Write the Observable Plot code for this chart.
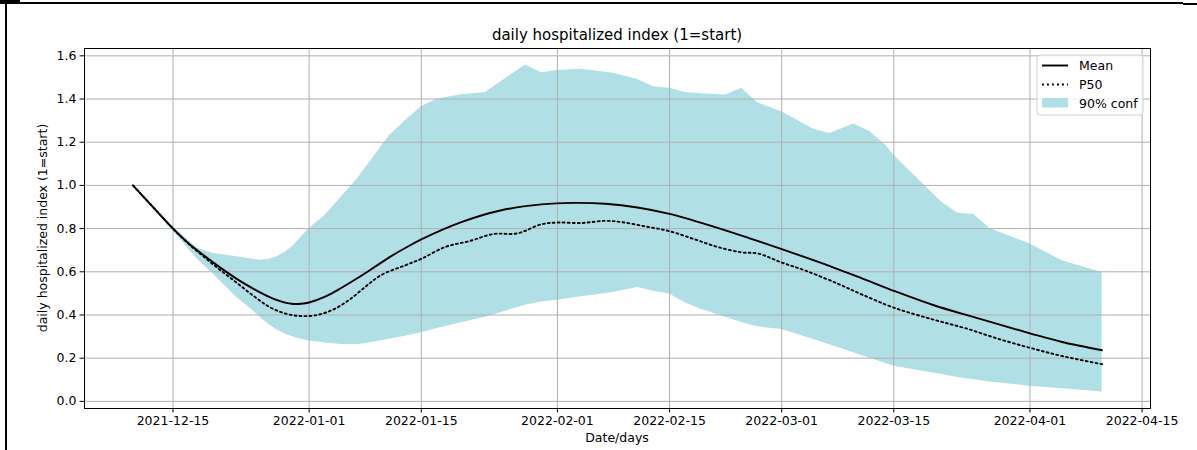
<!DOCTYPE html>
<html>
<head>
<meta charset="utf-8">
<script src="https://cdn.jsdelivr.net/npm/d3@7"></script>
<script src="https://cdn.jsdelivr.net/npm/@observablehq/plot@0.6"></script>
<style>
  html, body { margin: 0; padding: 0; background: white; }
  #wrap { position: relative; width: 1197px; height: 450px; overflow: hidden; background: white; }
  .bl { position: absolute; background: black; }
</style>
</head>
<body>
<div id="wrap">
  <div class="bl" style="left:0;top:0;width:20px;height:4px;"></div>
  <div class="bl" style="left:5px;top:2px;width:1178px;height:1.5px;"></div>
  <div class="bl" style="left:1183px;top:3px;width:14px;height:2px;"></div>
  <div class="bl" style="left:5px;top:0;width:2px;height:450px;"></div>
  <div id="chart" style="position:absolute;left:0;top:0;"></div>
</div>
<script>
// ---- data ----
const meanDates = ["2021-12-10","2021-12-11","2021-12-13","2021-12-15","2021-12-17","2021-12-19","2021-12-21","2021-12-23","2021-12-25","2021-12-27","2021-12-29","2021-12-30","2021-12-31","2022-01-01","2022-01-03","2022-01-05","2022-01-07","2022-01-09","2022-01-11","2022-01-13","2022-01-15","2022-01-20","2022-01-25","2022-01-30","2022-02-03","2022-02-07","2022-02-11","2022-02-15","2022-02-20","2022-02-25","2022-03-01","2022-03-06","2022-03-11","2022-03-15","2022-03-20","2022-03-25","2022-04-01","2022-04-05","2022-04-10"];
const meanValues = [1.00,0.96,0.88,0.80,0.73,0.672,0.617,0.566,0.522,0.484,0.457,0.451,0.452,0.458,0.485,0.525,0.57,0.618,0.667,0.71,0.75,0.83,0.885,0.912,0.919,0.915,0.898,0.868,0.815,0.755,0.705,0.64,0.57,0.512,0.445,0.39,0.315,0.275,0.237];

const p50Dates = ["2021-12-10","2021-12-11","2021-12-13","2021-12-15","2021-12-17","2021-12-19","2021-12-21","2021-12-23","2021-12-25","2021-12-27","2021-12-29","2021-12-31","2022-01-02","2022-01-04","2022-01-06","2022-01-08","2022-01-10","2022-01-13","2022-01-15","2022-01-18","2022-01-21","2022-01-24","2022-01-27","2022-01-30","2022-02-01","2022-02-04","2022-02-07","2022-02-09","2022-02-12","2022-02-15","2022-02-18","2022-02-21","2022-02-24","2022-02-26","2022-03-01","2022-03-04","2022-03-08","2022-03-11","2022-03-15","2022-03-20","2022-03-24","2022-03-28","2022-04-01","2022-04-05","2022-04-10"];
const p50Values = [1.00,0.96,0.88,0.80,0.728,0.665,0.605,0.548,0.49,0.438,0.407,0.395,0.40,0.425,0.47,0.53,0.585,0.63,0.66,0.715,0.742,0.775,0.778,0.82,0.828,0.826,0.836,0.83,0.81,0.788,0.752,0.715,0.69,0.685,0.643,0.605,0.545,0.495,0.434,0.378,0.338,0.29,0.248,0.21,0.172];

const bandDates = ["2021-12-10","2021-12-12","2021-12-15","2021-12-18","2021-12-20","2021-12-23","2021-12-25","2021-12-26","2021-12-27","2021-12-28","2021-12-29","2021-12-30","2021-12-31","2022-01-01","2022-01-03","2022-01-05","2022-01-07","2022-01-09","2022-01-11","2022-01-13","2022-01-15","2022-01-17","2022-01-20","2022-01-23","2022-01-28","2022-01-30","2022-02-01","2022-02-04","2022-02-08","2022-02-11","2022-02-13","2022-02-15","2022-02-17","2022-02-19","2022-02-22","2022-02-24","2022-02-26","2022-03-01","2022-03-05","2022-03-07","2022-03-10","2022-03-12","2022-03-14","2022-03-15","2022-03-21","2022-03-23","2022-03-25","2022-03-27","2022-04-01","2022-04-05","2022-04-10"];
const bandHigh = [1.00,0.91,0.81,0.71,0.685,0.67,0.658,0.653,0.658,0.67,0.69,0.72,0.76,0.80,0.862,0.945,1.03,1.129,1.23,1.30,1.364,1.40,1.42,1.43,1.558,1.522,1.532,1.538,1.519,1.49,1.457,1.45,1.43,1.425,1.419,1.45,1.383,1.341,1.26,1.24,1.284,1.25,1.186,1.14,0.922,0.871,0.865,0.80,0.729,0.651,0.597];
const bandLow = [1.00,0.91,0.79,0.66,0.59,0.48,0.42,0.385,0.355,0.33,0.312,0.298,0.288,0.28,0.27,0.263,0.262,0.274,0.288,0.302,0.318,0.337,0.364,0.39,0.445,0.46,0.468,0.484,0.504,0.527,0.51,0.497,0.455,0.426,0.39,0.365,0.345,0.333,0.287,0.262,0.225,0.20,0.175,0.163,0.125,0.11,0.10,0.09,0.07,0.058,0.043];

const xTickLabels = ["2021-12-15","2022-01-01","2022-01-15","2022-02-01","2022-02-15","2022-03-01","2022-03-15","2022-04-01","2022-04-15"];
const yTickValues = [0.0,0.2,0.4,0.6,0.8,1.0,1.2,1.4,1.6];

const titleText = "daily hospitalized index (1=start)";
const yLabelText = "daily hospitalized index (1=start)";
const xLabelText = "Date/days";
const legendLabels = ["Mean","P50","90% conf"];

// ---- build tables ----
const parse = d3.utcParse("%Y-%m-%d");
const mean = meanDates.map((d, i) => ({date: parse(d), value: meanValues[i]}));
const p50 = p50Dates.map((d, i) => ({date: parse(d), value: p50Values[i]}));
const band = bandDates.map((d, i) => ({date: parse(d), low: bandLow[i], high: bandHigh[i]}));
const xTicks = xTickLabels.map(parse);

const x0 = parse(meanDates[0]), x1 = parse(meanDates[meanDates.length - 1]);
const pad = (x1 - x0) * 0.05;
const xDomain = [new Date(+x0 - pad), new Date(+x1 + pad)];

const fill = "#b0e0e6";
const gridColor = "#b0b0b0";
const font = "DejaVu Sans";

const plot = Plot.plot({
  width: 1197,
  height: 450,
  marginLeft: 84,
  marginRight: 47,
  marginTop: 48,
  marginBottom: 42,
  style: {fontFamily: font, fontSize: "12.5px", background: "transparent", color: "#000", overflow: "visible"},
  x: {type: "utc", domain: xDomain},
  y: {domain: [-0.033, 1.634]},
  marks: [
    Plot.areaY(band, {x: "date", y1: "low", y2: "high", fill: fill, curve: "linear"}),
    Plot.gridX(xTicks, {stroke: gridColor, strokeOpacity: 1, strokeWidth: 1}),
    Plot.gridY(yTickValues, {stroke: gridColor, strokeOpacity: 1, strokeWidth: 1}),
    Plot.lineY(mean, {x: "date", y: "value", stroke: "black", strokeWidth: 1.9, curve: "catmull-rom"}),
    Plot.lineY(p50, {x: "date", y: "value", stroke: "black", strokeWidth: 1.9, strokeDasharray: "1.9,3.1", curve: "catmull-rom"}),
    Plot.axisX(xTicks, {tickFormat: d3.utcFormat("%Y-%m-%d"), tickSize: 4.5, tickPadding: 3.5, fontSize: 12.5, label: null}),
    Plot.axisY(yTickValues, {tickFormat: d3.format(".1f"), tickSize: 4.5, tickPadding: 3.5, fontSize: 12.5, label: null}),
    Plot.frame({stroke: "black", strokeWidth: 1})
  ]
});
document.getElementById("chart").appendChild(plot);

// ---- titles and legend ----
const svg = d3.select(plot);
const cx = (84 + 1150) / 2;
svg.append("text").attr("x", cx).attr("y", 40).attr("text-anchor", "middle")
  .attr("font-family", font).attr("font-size", 15).attr("fill", "black").text(titleText);
svg.append("text").attr("x", cx).attr("y", 442).attr("text-anchor", "middle")
  .attr("font-family", font).attr("font-size", 12.5).attr("fill", "black").text(xLabelText);
svg.append("text").attr("transform", "translate(47,228) rotate(-90)").attr("text-anchor", "middle")
  .attr("font-family", font).attr("font-size", 12.5).attr("fill", "black").text(yLabelText);

const lg = svg.append("g");
lg.append("rect").attr("x", 1037).attr("y", 55).attr("width", 106).attr("height", 60).attr("rx", 3)
  .attr("fill", "white").attr("fill-opacity", 0.8).attr("stroke", "#d0d0d0").attr("stroke-width", 1);
lg.append("line").attr("x1", 1042).attr("x2", 1068).attr("y1", 65.5).attr("y2", 65.5).attr("stroke", "black").attr("stroke-width", 1.9);
lg.append("line").attr("x1", 1042).attr("x2", 1068).attr("y1", 84.5).attr("y2", 84.5).attr("stroke", "black").attr("stroke-width", 1.9).attr("stroke-dasharray", "1.9,3.1");
lg.append("rect").attr("x", 1042).attr("y", 98).attr("width", 26).attr("height", 9.5).attr("fill", fill);
legendLabels.forEach((t, i) => {
  lg.append("text").attr("x", 1079).attr("y", 70 + i * 19).attr("text-anchor", "start")
    .attr("font-family", font).attr("font-size", 12.5).attr("fill", "black").text(t);
});
</script>
</body>
</html>
